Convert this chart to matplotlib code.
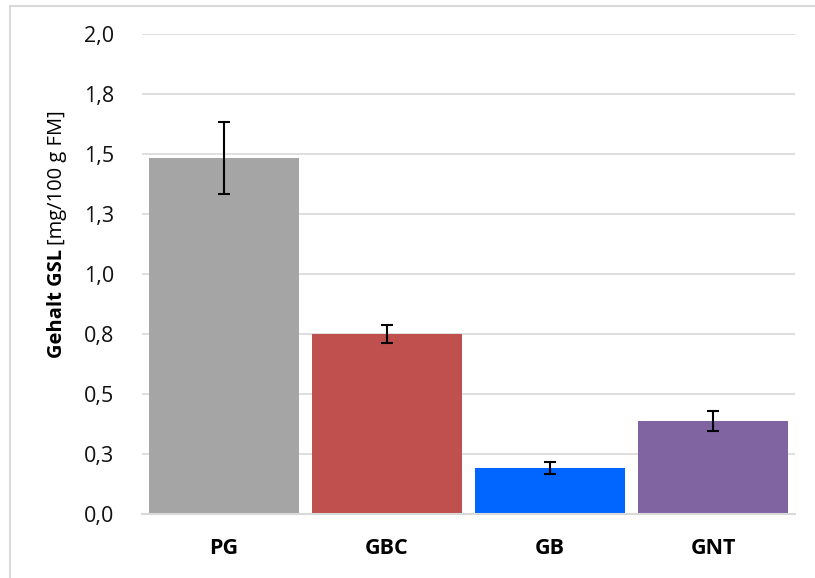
import matplotlib
matplotlib.use("Agg")
import matplotlib.pyplot as plt
from matplotlib.lines import Line2D

# GSL content per variant (mg/100 g fresh mass) with standard deviation
categories = ["PG", "GBC", "GB", "GNT"]
means = [1.485, 0.750, 0.192, 0.388]
errors = [0.150, 0.036, 0.024, 0.043]
colors = ["#a5a5a5", "#c0504d", "#0066ff", "#8064a2"]

y_ticks = [0.0, 0.25, 0.5, 0.75, 1.0, 1.25, 1.5, 1.75, 2.0]
y_tick_labels = ["0,0", "0,3", "0,5", "0,8", "1,0", "1,3", "1,5", "1,8", "2,0"]

plt.rcParams["font.family"] = ["Open Sans", "DejaVu Sans"]

W, H = 815, 578
fig = plt.figure(figsize=(W / 100, H / 100), dpi=100)
ax = fig.add_axes([142 / W, (H - 514) / H, (795 - 142) / W, (514 - 34) / H])

x = list(range(len(categories)))
ax.bar(x, means, width=0.92, color=colors, zorder=2)
ax.errorbar(x, means, yerr=errors, fmt="none", ecolor="black",
            elinewidth=1.5, capsize=4.5, capthick=1.5, zorder=3)

ax.set_xlim(-0.5, len(categories) - 0.5)
ax.set_ylim(0, 2.0)
ax.set_yticks(y_ticks)
ax.set_yticklabels(y_tick_labels, fontsize=15.5, color="#111111")
ax.set_xticks(x)
ax.set_xticklabels(categories, fontsize=15.5, fontweight="bold", color="black")
ax.tick_params(axis="both", length=0)
ax.tick_params(axis="y", pad=20)
ax.tick_params(axis="x", pad=17)

ax.grid(axis="y", color="#d9d9d9", linewidth=1.2, zorder=0)
ax.set_axisbelow(True)
for side in ["top", "right", "left"]:
    ax.spines[side].set_visible(False)
ax.spines["bottom"].set_color("#d9d9d9")
ax.spines["bottom"].set_linewidth(1.5)
ax.spines["bottom"].set_zorder(4)

# y-axis title: bold part followed by regular unit text
fig.canvas.draw()
renderer = fig.canvas.get_renderer()
t1 = fig.text(57 / W, (H - 358) / H, "Gehalt GSL", rotation=90,
              fontsize=14.5, fontweight="bold", ha="center", va="bottom")
bb = t1.get_window_extent(renderer)
t2 = fig.text(57 / W, (bb.y1 + 4) / H, "[mg/100 g FM]", rotation=90,
              fontsize=14.5, ha="center", va="bottom")

# chart area frame (left and top edges)
fig.add_artist(Line2D([9.5 / W, 9.5 / W], [0, (H - 5.5) / H],
                      transform=fig.transFigure, color="#d9d9d9", linewidth=1.5))
fig.add_artist(Line2D([9.5 / W, 1], [(H - 5.5) / H, (H - 5.5) / H],
                      transform=fig.transFigure, color="#d9d9d9", linewidth=1.5))

fig.savefig("out.png", dpi=100)
